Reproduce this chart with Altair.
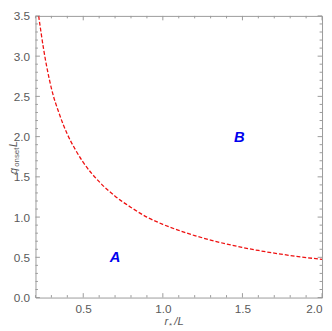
import altair as alt
import pandas as pd

# ---- data ----
r_vals = [0.22, 0.25, 0.30, 0.35, 0.40, 0.45, 0.50, 0.60, 0.70, 0.80, 0.90, 1.00,
          1.10, 1.20, 1.30, 1.40, 1.50, 1.60, 1.70, 1.80, 1.90, 2.00]
q_vals = [3.50, 3.10, 2.60, 2.28, 2.03, 1.84, 1.68, 1.44, 1.26, 1.12, 1.00, 0.91,
          0.835, 0.77, 0.715, 0.665, 0.623, 0.585, 0.552, 0.523, 0.497, 0.475]

x_major = [0.5, 1.0, 1.5, 2.0]
x_minor = [0.2, 0.3, 0.4, 0.6, 0.7, 0.8, 0.9, 1.1, 1.2, 1.3, 1.4, 1.6, 1.7, 1.8, 1.9]
y_major = [0.0, 0.5, 1.0, 1.5, 2.0, 2.5, 3.0, 3.5]
y_minor = [0.1, 0.2, 0.3, 0.4, 0.6, 0.7, 0.8, 0.9, 1.1, 1.2, 1.3, 1.4, 1.6, 1.7, 1.8, 1.9,
           2.1, 2.2, 2.3, 2.4, 2.6, 2.7, 2.8, 2.9, 3.1, 3.2, 3.3, 3.4]

region_labels = ["A", "B"]
region_r = [0.70, 1.48]
region_q = [0.50, 2.00]

W, H = 292, 287
FRAME = "#9a9a9a"
LABEL = "#5a5a5a"
FONT = "Liberation Sans"

xs = alt.Scale(domain=[0.2, 2.0], nice=False, zero=False)
ys = alt.Scale(domain=[0.0, 3.5], nice=False, zero=False)

curve_df = pd.DataFrame({"r": r_vals, "q": q_vals})

curve = alt.Chart(curve_df).mark_line(
    color="#ee1111", strokeDash=[4, 2], strokeWidth=1.3, interpolate="monotone", clip=True
).encode(
    x=alt.X("r:Q", scale=xs, axis=alt.Axis(values=x_major, format=".1f", ticks=False, domain=False,
                                           grid=False, title=None, labelColor=LABEL, labelFont=FONT,
                                           labelFontSize=12, labelPadding=6)),
    y=alt.Y("q:Q", scale=ys, axis=alt.Axis(values=y_major, format=".1f", ticks=False, domain=False,
                                           grid=False, title=None, labelColor=LABEL, labelFont=FONT,
                                           labelFontSize=12, labelPadding=6)),
)

def xticks(vals, length):
    df = pd.DataFrame({"v": vals})
    base = alt.Chart(df)
    bottom = base.mark_rule(color=FRAME, strokeWidth=1).encode(
        x=alt.X("v:Q", scale=xs), y=alt.value(H), y2=alt.value(H - length))
    top = base.mark_rule(color=FRAME, strokeWidth=1).encode(
        x=alt.X("v:Q", scale=xs), y=alt.value(0), y2=alt.value(length))
    return [bottom, top]

def yticks(vals, length):
    df = pd.DataFrame({"v": vals})
    base = alt.Chart(df)
    left = base.mark_rule(color=FRAME, strokeWidth=1).encode(
        y=alt.Y("v:Q", scale=ys), x=alt.value(0), x2=alt.value(length))
    right = base.mark_rule(color=FRAME, strokeWidth=1).encode(
        y=alt.Y("v:Q", scale=ys), x=alt.value(W), x2=alt.value(W - length))
    return [left, right]

ticks = xticks(x_major, 4.5) + xticks(x_minor, 2.5) + yticks(y_major, 4.5) + yticks(y_minor, 2.5)

labels_df = pd.DataFrame({"label": region_labels, "r": region_r, "q": region_q})
region_text = alt.Chart(labels_df).mark_text(
    color="#0000ee", fontSize=15, fontWeight="bold", fontStyle="italic", font=FONT
).encode(x=alt.X("r:Q", scale=xs), y=alt.Y("q:Q", scale=ys), text="label:N")

def txt(s, x, y, size=11.5, style="italic", angle=0, align="left", baseline="alphabetic"):
    return alt.Chart(pd.DataFrame({"t": [s]})).mark_text(
        font=FONT, fontSize=size, fontStyle=style, color=LABEL, angle=angle,
        align=align, baseline=baseline
    ).encode(x=alt.value(x), y=alt.value(y), text="t:N")

# x title: r_* / L
xt_y = 315
x_title = [
    txt("r", 131.5, xt_y),
    txt("*", 136, xt_y + 3, size=8, style="normal"),
    txt("/L", 141.5, xt_y),
]
# y title: q_onset L (rotated)
y_title = [
    txt("q", -22, 158, size=11, angle=270, align="center", baseline="middle"),
    txt("onset", -19, 144, size=8, style="normal", angle=270, align="center", baseline="middle"),
    txt("L", -22, 130.5, size=11, angle=270, align="center", baseline="middle"),
]

chart = alt.layer(curve, *ticks, region_text, *x_title, *y_title).properties(
    width=W, height=H,
    autosize=alt.AutoSizeParams(type="none"),
    padding={"left": 28, "top": 5, "right": 2, "bottom": 30},
).configure_view(stroke=FRAME, strokeWidth=1).configure_axis(labelFont=FONT)

chart.save("out.html", embed_options={"renderer": "svg", "actions": False})
